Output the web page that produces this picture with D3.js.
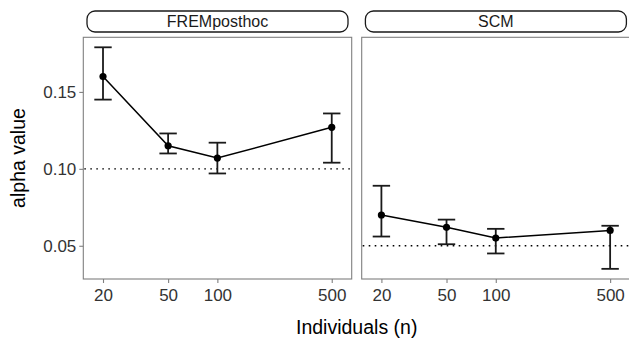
<!DOCTYPE html>
<html>
<head>
<meta charset="utf-8">
<script src="https://cdn.jsdelivr.net/npm/d3@7"></script>
<style>
  html, body { margin: 0; padding: 0; background: #fff; }
  svg { display: block; font-family: "Liberation Sans", Arial, sans-serif; }
</style>
</head>
<body>
<svg id="chart" width="629" height="339"></svg>
<script>
// ---- data ----
const individuals = [20, 50, 100, 500];
const facetNames = ["FREMposthoc", "SCM"];
const fremAlpha = [0.160, 0.115, 0.107, 0.127];
const fremLower = [0.145, 0.110, 0.097, 0.104];
const fremUpper = [0.179, 0.123, 0.117, 0.136];
const scmAlpha = [0.070, 0.062, 0.055, 0.060];
const scmLower = [0.056, 0.051, 0.045, 0.035];
const scmUpper = [0.089, 0.067, 0.061, 0.063];
const targetAlpha = [0.10, 0.05];
const yTickValues = [0.05, 0.10, 0.15];
const xTickValues = [20, 50, 100, 500];

const facets = [
  { name: facetNames[0], alpha: fremAlpha, lo: fremLower, hi: fremUpper, target: targetAlpha[0] },
  { name: facetNames[1], alpha: scmAlpha, lo: scmLower, hi: scmUpper, target: targetAlpha[1] }
];

const svg = d3.select("#chart");
const panelTop = 37.3, panelBottom = 279;
const panelLefts = [83.3, 361.7];
const panelW = 268.4;

const y = d3.scaleLinear().domain([0.0284, 0.1855]).range([panelBottom, panelTop]);

facets.forEach((f, i) => {
  const x0 = panelLefts[i];
  const x = d3.scaleLog().domain([Math.pow(10, 1.1806), Math.pow(10, 2.821)]).range([x0, x0 + panelW]);
  const g = svg.append("g");

  // strip
  g.append("rect")
    .attr("x", x0 + 3.7).attr("y", 11)
    .attr("width", panelW - 7.4).attr("height", 21)
    .attr("rx", 8).attr("ry", 8)
    .attr("fill", "#fff").attr("stroke", "#1a1a1a").attr("stroke-width", 1.3);
  g.append("text")
    .attr("x", x0 + panelW / 2).attr("y", 27.2)
    .attr("text-anchor", "middle")
    .attr("font-size", 16).attr("fill", "#1a1a1a")
    .text(f.name);

  // panel border
  g.append("rect")
    .attr("x", x0).attr("y", panelTop)
    .attr("width", panelW).attr("height", panelBottom - panelTop)
    .attr("fill", "none").attr("stroke", "#7f7f7f").attr("stroke-width", 1.1);

  // reference line
  g.append("line")
    .attr("x1", x0 + 1).attr("x2", x0 + panelW - 1)
    .attr("y1", y(f.target)).attr("y2", y(f.target))
    .attr("stroke", "#000").attr("stroke-width", 1.4)
    .attr("stroke-dasharray", "1.6,4.4");

  // x axis
  const xAxis = d3.axisBottom(x).tickValues(xTickValues).tickFormat(d3.format("d")).tickSize(4).tickPadding(5.5);
  const xa = g.append("g").attr("transform", `translate(0,${panelBottom})`).call(xAxis);
  xa.select(".domain").remove();
  xa.selectAll("line").attr("stroke", "#7f7f7f").attr("stroke-width", 1.1);
  xa.selectAll("text").attr("font-size", 17).attr("fill", "#333").attr("font-family", "Liberation Sans, Arial, sans-serif");

  if (i === 0) {
    const yAxis = d3.axisLeft(y).tickValues(yTickValues).tickFormat(d3.format(".2f")).tickSize(4).tickPadding(3);
    const ya = g.append("g").attr("transform", `translate(${x0},0)`).call(yAxis);
    ya.select(".domain").remove();
    ya.selectAll("line").attr("stroke", "#7f7f7f").attr("stroke-width", 1.1);
    ya.selectAll("text").attr("font-size", 17).attr("fill", "#333").attr("font-family", "Liberation Sans, Arial, sans-serif");
  }

  const pts = individuals.map((n, k) => ({ n, a: f.alpha[k], lo: f.lo[k], hi: f.hi[k] }));

  // error bars
  const eb = g.selectAll(".eb").data(pts).enter().append("g");
  eb.append("line")
    .attr("x1", d => x(d.n)).attr("x2", d => x(d.n))
    .attr("y1", d => y(d.lo)).attr("y2", d => y(d.hi))
    .attr("stroke", "#1a1a1a").attr("stroke-width", 1.8);
  eb.append("line")
    .attr("x1", d => x(d.n) - 8.7).attr("x2", d => x(d.n) + 8.7)
    .attr("y1", d => y(d.lo)).attr("y2", d => y(d.lo))
    .attr("stroke", "#1a1a1a").attr("stroke-width", 1.8);
  eb.append("line")
    .attr("x1", d => x(d.n) - 8.7).attr("x2", d => x(d.n) + 8.7)
    .attr("y1", d => y(d.hi)).attr("y2", d => y(d.hi))
    .attr("stroke", "#1a1a1a").attr("stroke-width", 1.8);

  // line
  g.append("path")
    .datum(pts)
    .attr("d", d3.line().x(d => x(d.n)).y(d => y(d.a)))
    .attr("fill", "none").attr("stroke", "#000").attr("stroke-width", 1.5);

  // points
  g.selectAll(".pt").data(pts).enter().append("circle")
    .attr("cx", d => x(d.n)).attr("cy", d => y(d.a)).attr("r", 3.6)
    .attr("fill", "#000");
});

// axis titles
svg.append("text")
  .attr("x", 356.7).attr("y", 334)
  .attr("text-anchor", "middle").attr("font-size", 19.5).attr("fill", "#000")
  .text("Individuals (n)");
svg.append("text")
  .attr("transform", `translate(25,158) rotate(-90)`)
  .attr("text-anchor", "middle").attr("font-size", 19.5).attr("fill", "#000")
  .text("alpha value");
</script>
</body>
</html>
